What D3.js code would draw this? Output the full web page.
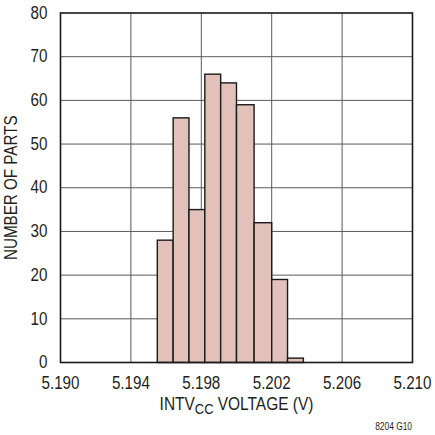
<!DOCTYPE html>
<html lang="en">

<head>
    <meta charset="UTF-8">
    <title>INTVcc histogram</title>
    <style>
        body { margin: 0; background: white; }
        svg text {
            font-family: "Liberation Sans", Arial, sans-serif;
            fill: #231f20;
        }
    </style>
</head>

<body>
    <script src='https://d3js.org/d3.v7.min.js'></script>
    <script>
        // bin edges (V) and number of parts per bin
        var binEdges = [5.1955, 5.1964, 5.1973, 5.1982, 5.1991, 5.2000, 5.2010, 5.2020, 5.2029, 5.2038];
        var counts = [28, 56, 35, 66, 64, 59, 32, 19, 1];
        var xTicks = [5.190, 5.194, 5.198, 5.202, 5.206, 5.210];
        var yTicks = [0, 10, 20, 30, 40, 50, 60, 70, 80];

        var width = 435, height = 435;
        var margin = { top: 13, right: 22.5, bottom: 72.5, left: 60.5 };
        var narrow = 0.8; // the original uses a condensed face

        var svg = d3.select("body").append("svg")
            .attr("width", width)
            .attr("height", height);

        var x = d3.scaleLinear().domain([5.190, 5.210]).range([margin.left, width - margin.right]);
        var y = d3.scaleLinear().domain([0, 80]).range([height - margin.bottom, margin.top]);

        function place(px, py, rot, sx) {
            return "translate(" + px + "," + py + ")" + (rot ? " rotate(" + rot + ")" : "") + " scale(" + (sx || narrow) + ",1)";
        }

        // grid
        svg.append("g").selectAll("line")
            .data(xTicks.slice(1, -1))
            .enter().append("line")
            .attr("x1", d => x(d)).attr("x2", d => x(d))
            .attr("y1", y(0)).attr("y2", y(80))
            .attr("stroke", "#5a5a5a").attr("stroke-width", 1);
        svg.append("g").selectAll("line")
            .data(yTicks.slice(1, -1))
            .enter().append("line")
            .attr("x1", x(5.190)).attr("x2", x(5.210))
            .attr("y1", d => y(d)).attr("y2", d => y(d))
            .attr("stroke", "#5a5a5a").attr("stroke-width", 1);

        // bars
        var bins = counts.map(function (c, i) {
            return { x0: binEdges[i], x1: binEdges[i + 1], n: c };
        });
        svg.append("g").selectAll("rect")
            .data(bins)
            .enter().append("rect")
            .attr("x", d => x(d.x0))
            .attr("width", d => x(d.x1) - x(d.x0))
            .attr("y", d => y(d.n))
            .attr("height", d => y(0) - y(d.n))
            .attr("fill", "#e3c1bb")
            .attr("stroke", "#1a1a1a")
            .attr("stroke-width", 1.4);

        // frame
        svg.append("rect")
            .attr("x", x(5.190)).attr("y", y(80))
            .attr("width", x(5.210) - x(5.190))
            .attr("height", y(0) - y(80))
            .attr("fill", "none")
            .attr("stroke", "#1a1a1a")
            .attr("stroke-width", 1.6);

        // tick labels
        svg.append("g").selectAll("text")
            .data(yTicks)
            .enter().append("text")
            .attr("transform", d => place(margin.left - 13, y(d)))
            .attr("dy", "0.3em")
            .attr("text-anchor", "end")
            .attr("font-size", 19)
            .text(d => d);
        svg.append("g").selectAll("text")
            .data(xTicks)
            .enter().append("text")
            .attr("transform", d => place(x(d), 389))
            .attr("text-anchor", "middle")
            .attr("font-size", 19)
            .text(d => d.toFixed(3));

        // axis titles
        svg.append("text")
            .attr("transform", place(17, y(40), -90))
            .attr("text-anchor", "middle")
            .attr("font-size", 19)
            .text("NUMBER OF PARTS");

        var xt = svg.append("text")
            .attr("transform", place((x(5.190) + x(5.210)) / 2, 410, 0, 0.86))
            .attr("text-anchor", "middle")
            .attr("font-size", 18);
        xt.append("tspan").text("INTV");
        xt.append("tspan").attr("dy", 4).attr("font-size", 15).text("CC");
        xt.append("tspan").attr("dy", -4).text(" VOLTAGE (V)");

        svg.append("text")
            .attr("transform", place(412, 430))
            .attr("text-anchor", "end")
            .attr("font-size", 10.5)
            .text("8204 G10");
    </script>
</body>

</html>
